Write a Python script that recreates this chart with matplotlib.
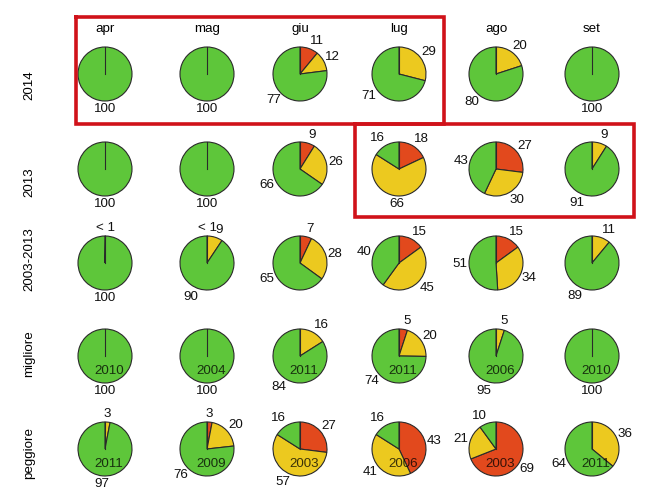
import numpy as np
import matplotlib as mpl
import matplotlib.pyplot as plt

mpl.use('Agg')
plt.rcParams['font.family'] = ['Liberation Sans', 'DejaVu Sans']

mesi = ["apr", "mag", "giu", "lug", "ago", "set"]
righe = ["2014", "2013", "2003-2013", "migliore", "peggiore"]

# percentuali per riga: rosso, giallo, verde
rosso = [
    [0, 0, 11, 0, 0, 0],
    [0, 0, 9, 18, 27, 0],
    [0.3, 0.3, 7, 15, 15, 0],
    [0, 0, 0, 5, 0, 0],
    [0, 3, 27, 43, 69, 0],
]
giallo = [
    [0, 0, 12, 29, 20, 0],
    [0, 0, 26, 66, 30, 9],
    [0, 9, 28, 45, 34, 11],
    [0, 0, 16, 20, 5, 0],
    [3, 20, 57, 41, 21, 36],
]
verde = [
    [100, 100, 77, 71, 80, 100],
    [100, 100, 66, 16, 43, 91],
    [100, 90, 65, 40, 51, 89],
    [100, 100, 84, 74, 95, 100],
    [97, 76, 16, 16, 10, 64],
]
anni = {
    3: ["2010", "2004", "2011", "2011", "2006", "2010"],
    4: ["2011", "2009", "2003", "2006", "2003", "2011"],
}

colori = ['#e2491d', '#ecc91f', '#5ec63a']

W, H = 650, 501
col_x = [105, 207, 300, 399, 496, 592]
row_y = [74, 169, 263, 356, 449]
lab_y = [85, 182, 259, 354, 453]
R = 27
FS = 9.6

fig = plt.figure(figsize=(6.5, 5.01), dpi=100)
ax = fig.add_axes([0, 0, 1, 1])


def etichetta(v):
    if 0 < v < 1:
        return "< 1"
    return str(int(round(v)))


for i in range(len(righe)):
    for j in range(len(mesi)):
        vals = [rosso[i][j], giallo[i][j], verde[i][j]]
        cx, cy = col_x[j], H - row_y[i]
        ax.pie(vals, colors=colori, startangle=90, counterclock=False,
               center=(cx, cy), radius=R, normalize=True,
               wedgeprops=dict(edgecolor='#2a2a2a', linewidth=0.8))
        ax.plot([cx, cx], [cy, cy + R], color='#2a2a2a', lw=0.8)
        tot = sum(vals)
        cum = 0
        for v in vals:
            if v > 0:
                th = np.deg2rad(360 * (cum + v / 2) / tot)
                sx, sy = np.sin(th), np.cos(th)
                if abs(sx) < 0.15:
                    ha = 'center'
                elif sx > 0:
                    ha = 'left'
                else:
                    ha = 'right'
                ax.text(cx + 1.06 * R * sx, cy + 1.3 * R * sy, etichetta(v),
                        ha=ha, va='center', fontsize=FS, color='#111111')
            cum += v
        if i in anni:
            ax.text(cx + 4, cy - 15, anni[i][j], ha='center', va='center',
                    fontsize=FS, color='black', alpha=0.75)

for j, m in enumerate(mesi):
    ax.text(col_x[j], H - 29, m, ha='center', va='center', fontsize=FS)

for i, r in enumerate(righe):
    ax.text(29, H - lab_y[i], r, ha='center', va='center', rotation=90,
            fontsize=FS)

# riquadri rossi
ax.plot([75.5, 444, 444, 75.5, 75.5],
        [H - 16.5, H - 16.5, H - 123.5, H - 123.5, H - 16.5],
        color='#d0121a', lw=2.6, solid_joinstyle='miter')
ax.plot([355, 633.5, 633.5, 355, 355],
        [H - 123.5, H - 123.5, H - 217, H - 217, H - 123.5],
        color='#d0121a', lw=2.6, solid_joinstyle='miter')

ax.set_xlim(0, W)
ax.set_ylim(0, H)
ax.set_aspect('auto')
ax.axis('off')

fig.savefig('out.png', dpi=100)
